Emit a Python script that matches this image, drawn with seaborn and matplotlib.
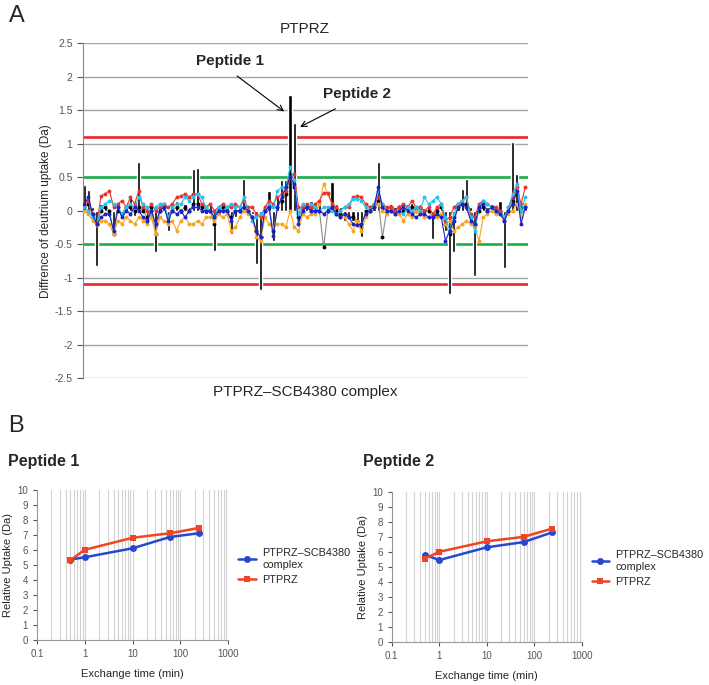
#!/usr/bin/env python3
import numpy as np
import matplotlib
matplotlib.use("Agg")
import matplotlib.pyplot as plt
import matplotlib.ticker as ticker
import seaborn as sns

# ---- panel A data: difference of deuterium uptake per peptide (Da)
bar_sum = [0.38, 0.31, 0.05, -0.83, 0.1, 0.12, -0.1, -0.37, 0.08, -0.12,
           0.05, 0.22, -0.08, 0.72, 0.06, -0.2, 0.1, -0.61, 0.05, 0.08,
           -0.3, 0.05, 0.15, -0.05, 0.1, 0.05, 0.62, 0.64, 0.08, -0.05,
           0.1, -0.6, 0.05, 0.08, 0.05, -0.35, -0.1, 0.05, 0.47, 0.03,
           -0.05, -0.8, -1.19, 0.05, 0.3, -0.45, 0.2, 0.45, 0.45, 1.72,
           1.31, -0.15, 0.12, 0.1, 0.15, 0.05, 0.15, 0.0, 0.05, 0.43,
           0.1, 0.05, -0.15, -0.1, -0.15, -0.2, -0.39, -0.05, 0.05, 0.1,
           0.73, 0.05, 0.08, 0.1, 0.05, 0.08, 0.05, 0.1, 0.12, 0.05,
           0.08, -0.05, 0.05, -0.42, 0.05, 0.08, -0.3, -1.25, -0.62, 0.1,
           0.32, 0.47, 0.05, -0.98, 0.1, 0.12, 0.05, 0.1, 0.05, 0.15,
           -0.86, 0.05, 1.02, 0.55, 0.1, 0.05]
red_a = [0.1, 0.15, -0.1, -0.2, 0.22, 0.25, 0.3, 0.05, 0.1, 0.15,
         0.05, 0.2, 0.1, 0.3, 0.05, 0.0, 0.1, 0.0, 0.05, 0.1,
         0.05, 0.1, 0.2, 0.22, 0.25, 0.2, 0.25, 0.25, 0.1, 0.05,
         0.1, 0.0, 0.05, 0.1, 0.05, 0.05, 0.1, 0.05, 0.15, 0.05,
         0.05, -0.05, -0.1, 0.05, 0.15, 0.1, 0.2, 0.25, 0.3, 0.5,
         0.55, 0.05, 0.05, 0.1, 0.05, 0.1, 0.15, 0.27, 0.27, 0.1,
         0.05, 0.0, 0.05, 0.05, 0.2, 0.22, 0.2, 0.1, 0.05, 0.1,
         0.2, 0.1, 0.05, 0.05, 0.0, 0.05, 0.1, 0.05, 0.15, 0.05,
         0.05, 0.0, 0.05, -0.05, 0.05, 0.1, -0.15, -0.1, 0.05, 0.1,
         0.15, 0.2, -0.05, -0.1, 0.1, 0.15, 0.1, 0.05, 0.05, 0.0,
         -0.15, 0.05, 0.2, 0.35, 0.1, 0.35]
cyan_a = [0.05, 0.0, -0.1, -0.2, 0.05, 0.1, 0.15, 0.1, 0.05, -0.05,
          0.05, 0.1, 0.05, 0.2, 0.1, 0.05, -0.05, 0.05, 0.1, 0.1,
          -0.1, 0.05, 0.1, 0.1, 0.2, 0.15, 0.2, 0.25, 0.2, 0.05,
          0.0, -0.1, 0.05, 0.0, 0.05, 0.1, 0.05, 0.05, 0.2, 0.0,
          -0.15, -0.1, -0.05, 0.0, 0.1, 0.05, 0.3, 0.35, 0.35, 0.65,
          0.45, -0.05, 0.1, 0.05, 0.1, 0.05, 0.0, 0.05, 0.05, 0.0,
          -0.05, 0.0, 0.05, 0.1, 0.18, 0.18, 0.15, 0.05, 0.0, 0.1,
          0.3, 0.1, 0.0, 0.0, -0.05, 0.0, -0.05, 0.05, 0.0, 0.05,
          0.0, 0.2, 0.1, 0.15, 0.2, 0.1, -0.1, -0.3, -0.05, 0.1,
          0.15, 0.2, -0.1, -0.3, 0.05, 0.15, 0.1, 0.05, 0.0, -0.05,
          -0.1, 0.05, 0.25, 0.4, 0.0, 0.2]
blue_a = [0.1, 0.2, -0.05, -0.2, -0.1, -0.05, -0.05, -0.3, 0.05, -0.1,
          0.0, -0.05, 0.05, 0.0, -0.1, -0.15, 0.0, -0.2, 0.0, 0.05,
          -0.15, 0.0, -0.05, 0.0, -0.1, 0.0, 0.05, 0.05, 0.0, 0.0,
          0.0, -0.1, 0.0, 0.0, 0.0, -0.15, 0.0, 0.0, 0.05, 0.0,
          -0.1, -0.3, -0.4, 0.0, 0.05, -0.38, 0.05, 0.2, 0.35, 0.5,
          0.4, -0.2, 0.0, 0.05, 0.0, 0.0, 0.0, -0.05, 0.0, 0.05,
          -0.05, -0.1, -0.05, -0.1, -0.2, -0.22, -0.2, -0.05, 0.0, 0.05,
          0.35, 0.05, 0.0, 0.0, -0.05, 0.0, 0.05, 0.0, -0.05, -0.1,
          -0.05, -0.05, -0.1, -0.1, -0.05, -0.1, -0.45, -0.3, -0.15, 0.05,
          0.1, 0.05, -0.15, -0.2, 0.05, 0.1, 0.0, 0.05, 0.0, -0.05,
          -0.15, 0.0, 0.1, 0.3, -0.2, 0.05]
orange_a = [0.0, -0.05, -0.15, -0.22, -0.15, -0.15, -0.2, -0.35, -0.15, -0.2,
            -0.1, -0.15, -0.2, -0.1, -0.15, -0.2, -0.1, -0.35, -0.1, -0.15,
            -0.2, -0.15, -0.3, -0.15, -0.1, -0.2, -0.2, -0.15, -0.2, -0.1,
            -0.1, -0.15, -0.05, -0.1, -0.05, -0.3, -0.25, -0.1, 0.0, -0.05,
            -0.1, -0.4, -0.45, -0.1, -0.2, -0.25, -0.2, -0.2, -0.25, 0.0,
            -0.25, -0.3, -0.05, -0.1, -0.05, -0.05, 0.1, 0.4, 0.25, 0.1,
            -0.05, -0.1, -0.1, -0.2, -0.3, -0.15, -0.3, -0.1, 0.0, 0.05,
            0.1, 0.0, -0.05, 0.0, -0.05, -0.05, -0.15, -0.05, -0.1, 0.0,
            -0.05, -0.1, -0.1, -0.05, -0.1, -0.05, -0.2, -0.15, -0.3, -0.25,
            -0.2, -0.15, -0.2, -0.25, -0.45, -0.1, -0.05, 0.0, -0.05, 0.0,
            -0.1, -0.05, 0.0, 0.1, -0.1, 0.1]
gray_a = [0.05, 0.1, -0.05, -0.2, 0.0, 0.05, 0.0, -0.35, 0.0, -0.05,
          0.05, 0.05, 0.0, 0.05, 0.0, -0.1, 0.05, -0.35, 0.0, 0.05,
          -0.1, 0.0, 0.05, 0.0, 0.05, 0.0, 0.1, 0.1, 0.05, 0.0,
          0.0, -0.2, 0.0, 0.05, 0.0, -0.1, 0.0, 0.0, 0.05, 0.0,
          -0.1, -0.3, -0.4, 0.0, 0.05, -0.3, 0.05, 0.15, 0.25, 0.5,
          0.35, -0.1, 0.05, 0.05, 0.0, 0.05, 0.0, -0.55, 0.0, 0.05,
          0.0, -0.05, -0.05, -0.1, -0.1, -0.15, -0.25, 0.0, 0.0, 0.05,
          0.15, -0.4, 0.0, 0.05, 0.0, 0.05, 0.0, 0.05, 0.05, 0.0,
          0.05, 0.0, 0.0, -0.1, 0.0, 0.05, -0.2, -0.35, -0.1, 0.05,
          0.1, 0.1, -0.1, -0.2, 0.0, 0.05, 0.0, 0.05, 0.0, 0.0,
          -0.1, 0.0, 0.15, 0.25, 0.0, 0.05]
threshold_green = 0.5
threshold_red = 1.1

# ---- panel B data: relative uptake (Da) vs exchange time (min)
times = [0.5, 1, 10, 60, 240]
pep1_complex = [5.35, 5.5, 6.1, 6.85, 7.1]
pep1_ptprz = [5.3, 6.0, 6.8, 7.1, 7.45]
pep2_complex = [5.8, 5.45, 6.3, 6.65, 7.3]
pep2_ptprz = [5.55, 6.0, 6.7, 7.0, 7.55]

sns.set_style("white")
plt.rcParams['font.family'] = ['Liberation Sans', 'DejaVu Sans']

fig = plt.figure(figsize=(7.09, 6.85), dpi=100)

# ================= panel A
ax = fig.add_axes([0.117, 0.448, 0.628, 0.489])
idx = np.arange(len(bar_sum))
for v in np.arange(-2.5, 2.51, 0.5):
    ax.axhline(v, color='#a6a6a6', lw=1.0, zorder=0)
for s in (1, -1):
    ax.axhline(s * threshold_green, color='#1fb04a', lw=1.9, zorder=1)
    ax.axhline(s * threshold_red, color='#e8272b', lw=1.9, zorder=1)

ax.bar(idx, bar_sum, width=0.75, color='black', zorder=2)
kw = dict(marker='o', markersize=2.8, markeredgewidth=0, linewidth=0.8, ax=ax, legend=False)
sns.lineplot(x=idx, y=gray_a, color='#8c8c8c', zorder=3, **kw)
ax.lines[-1].set_markerfacecolor('black')
sns.lineplot(x=idx, y=orange_a, color='#f5a623', zorder=3, **kw)
sns.lineplot(x=idx, y=red_a, color='#e8322d', zorder=4, **kw)
sns.lineplot(x=idx, y=cyan_a, color='#26c2ee', zorder=4, **kw)
sns.lineplot(x=idx, y=blue_a, color='#1c22c8', zorder=5, **kw)

ax.set_xlim(-0.3, len(bar_sum) - 0.3)
ax.set_ylim(-2.5, 2.5)
ax.yaxis.set_major_locator(ticker.MultipleLocator(0.5))
ax.yaxis.set_major_formatter(ticker.FuncFormatter(lambda v, p: f"{v:g}"))
ax.set_xticks([])
ax.tick_params(axis='y', labelsize=7.5, colors='#555555', length=4, width=0.8, direction='out', left=True)
for sp in ('top', 'right', 'bottom'):
    ax.spines[sp].set_visible(False)
ax.spines['left'].set_color('#888888')
ax.set_ylabel('Diffrence of deutrium uptake (Da)', fontsize=8.5, labelpad=2)
ax.set_xlabel('')

# peptide call-outs
arrow = dict(arrowstyle='->', color='black', lw=0.8, shrinkA=0, shrinkB=0)
ax.annotate('', xy=(47.6, 1.48), xytext=(36.4, 2.01), arrowprops=arrow)
ax.text(34.8, 2.23, 'Peptide 1', fontsize=11, fontweight='bold', ha='center', va='center')
ax.annotate('', xy=(51.4, 1.25), xytext=(59.8, 1.52), arrowprops=arrow)
ax.text(65.0, 1.74, 'Peptide 2', fontsize=11, fontweight='bold', ha='center', va='center')

fig.text(0.43, 0.958, 'PTPRZ', fontsize=11, ha='center', va='center')
fig.text(0.43, 0.428, 'PTPRZ\u2013SCB4380 complex', fontsize=11, ha='center', va='center')
fig.text(0.012, 0.977, 'A', fontsize=17, ha='left', va='center')
fig.text(0.012, 0.378, 'B', fontsize=17, ha='left', va='center')


# ================= panel B
def uptake_panel(rect, complex_vals, ptprz_vals, title, title_x):
    bx = fig.add_axes(rect)
    sns.lineplot(x=times, y=complex_vals, marker='o', markersize=5, markeredgewidth=0,
                 color='#2747cf', linewidth=1.8, ax=bx, label='PTPRZ\u2013SCB4380\ncomplex', zorder=4)
    sns.lineplot(x=times, y=ptprz_vals, marker='s', markersize=4.5, markeredgewidth=0,
                 color='#ee4524', linewidth=1.8, ax=bx, label='PTPRZ', zorder=4)
    bx.set_xscale('log')
    bx.set_xlim(0.1, 1000)
    bx.set_ylim(0, 10)
    bx.yaxis.set_major_locator(ticker.MultipleLocator(1))
    bx.xaxis.set_major_locator(ticker.LogLocator(base=10, numticks=10))
    bx.xaxis.set_minor_locator(ticker.LogLocator(base=10, subs=np.arange(2, 10), numticks=20))
    bx.xaxis.set_major_formatter(ticker.FuncFormatter(lambda v, p: f"{v:g}"))
    bx.xaxis.set_minor_formatter(ticker.NullFormatter())
    bx.grid(True, which='both', axis='x', color='#d2d2d2', lw=0.8)
    bx.set_axisbelow(True)
    for sp in ('top', 'right'):
        bx.spines[sp].set_visible(False)
    for sp in ('left', 'bottom'):
        bx.spines[sp].set_color('#999999')
    bx.tick_params(axis='both', which='major', labelsize=7, colors='#555555', length=3,
                   width=0.8, direction='out', bottom=True, left=True)
    bx.tick_params(axis='x', which='minor', length=0)
    bx.set_xlabel('Exchange time (min)', fontsize=8, labelpad=7)
    bx.set_ylabel('Relative Uptake (Da)', fontsize=8, labelpad=3)
    bx.legend(loc='upper left', bbox_to_anchor=(1.03, 0.64), frameon=False,
              fontsize=7.8, handlelength=1.6, handletextpad=0.6, labelspacing=0.5, borderaxespad=0)
    fig.text(title_x, 0.327, title, fontsize=11.5, fontweight='bold', ha='left', va='center')
    return bx


uptake_panel([0.052, 0.066, 0.270, 0.219], pep1_complex, pep1_ptprz, 'Peptide 1', 0.011)
uptake_panel([0.5525, 0.063, 0.268, 0.219], pep2_complex, pep2_ptprz, 'Peptide 2', 0.512)

fig.savefig('out.png', dpi=100)
